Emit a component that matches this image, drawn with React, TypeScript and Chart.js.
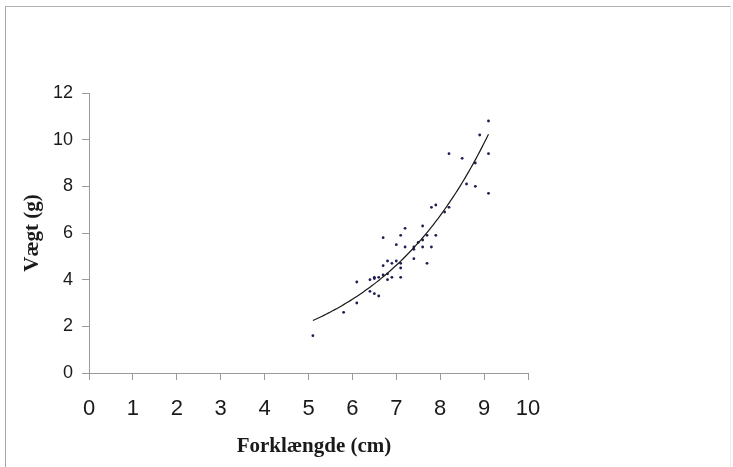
import React, { useEffect, useRef } from "react";
import { Chart, registerables } from "chart.js";

Chart.register(...registerables);

// Forklængde (cm)
const lengthCm: number[] = [
  5.1, 5.8, 6.1, 6.1, 6.4, 6.5, 6.5, 6.6, 6.4, 6.5, 6.6, 6.7, 6.7, 6.7, 6.8, 6.8, 6.8,
  6.9, 6.9, 7.0, 7.0, 7.1, 7.1, 7.1, 7.1, 7.2, 7.2, 7.4, 7.4, 7.4, 7.5, 7.6, 7.6, 7.6,
  7.7, 7.7, 7.8, 7.8, 7.9, 7.9, 8.1, 8.2, 8.2, 8.5, 8.6, 8.8, 8.8, 8.9, 9.1, 9.1, 9.1,
];
// Vægt (g)
const weightG: number[] = [
  1.6, 2.6, 3.0, 3.9, 4.0, 4.05, 4.1, 4.1, 3.5, 3.4, 3.3, 4.2, 4.6, 5.8, 4.0, 4.25, 4.8,
  4.7, 4.1, 4.8, 5.5, 4.7, 4.5, 4.1, 5.9, 6.2, 5.4, 4.9, 5.3, 5.4, 5.6, 5.7, 6.3, 5.4,
  5.9, 4.7, 5.4, 7.1, 7.2, 5.9, 6.9, 7.1, 9.4, 9.2, 8.1, 8.0, 9.0, 10.2, 10.8, 9.4, 7.7,
];

const xTickValues: number[] = [0, 1, 2, 3, 4, 5, 6, 7, 8, 9, 10];
const yTickValues: number[] = [0, 2, 4, 6, 8, 10, 12];
const xTitle = "Forklængde (cm)";
const yTitle = "Vægt (g)";

const titleFont = "bold 21px 'Liberation Serif', 'Times New Roman', serif";

// Exponential trendline (least squares on ln(y)), as a spreadsheet would fit it
function expFit(xs: number[], ys: number[]) {
  const n = xs.length;
  let sx = 0, sy = 0, sxx = 0, sxy = 0;
  for (let i = 0; i < n; i++) {
    const ly = Math.log(ys[i]);
    sx += xs[i];
    sy += ly;
    sxx += xs[i] * xs[i];
    sxy += xs[i] * ly;
  }
  const k = (n * sxy - sx * sy) / (n * sxx - sx * sx);
  const lnA = (sy - k * sx) / n;
  return { a: Math.exp(lnA), k };
}

// Draws the x-axis title slightly right of the plot centre, as in the original
const xTitlePlugin = {
  id: "xTitlePlugin",
  afterDraw(chart: any) {
    const { ctx, chartArea } = chart;
    ctx.save();
    ctx.font = titleFont;
    ctx.fillStyle = "#1a1a1a";
    ctx.textAlign = "center";
    ctx.textBaseline = "alphabetic";
    ctx.fillText(xTitle, (chartArea.left + chartArea.right) / 2 + 5.5, chartArea.bottom + 79);
    ctx.restore();
  },
};

export default function App() {
  const ref = useRef<HTMLCanvasElement | null>(null);

  useEffect(() => {
    if (!ref.current) return;
    const { a, k } = expFit(lengthCm, weightG);
    const xMin = Math.min(...lengthCm);
    const xMax = Math.max(...lengthCm);
    const trend: { x: number; y: number }[] = [];
    const steps = 80;
    for (let i = 0; i <= steps; i++) {
      const x = xMin + ((xMax - xMin) * i) / steps;
      trend.push({ x, y: a * Math.exp(k * x) });
    }
    const points = lengthCm.map((x, i) => ({ x, y: weightG[i] }));

    const axisColor = "#9a9a9a";
    const chart = new Chart(ref.current, {
      type: "scatter",
      data: {
        datasets: [
          {
            label: "trend",
            data: trend,
            showLine: true,
            borderColor: "#1a1a1a",
            borderWidth: 1.2,
            pointRadius: 0,
            tension: 0,
            fill: false,
          },
          {
            label: "data",
            data: points,
            pointRadius: 1.4,
            pointBackgroundColor: "#1d1d55",
            pointBorderWidth: 0,
            showLine: false,
          },
        ],
      },
      options: {
        responsive: false,
        animation: false,
        events: [],
        layout: { padding: { left: 0, top: 93, right: 205, bottom: 0 } },
        plugins: { legend: { display: false }, tooltip: { enabled: false } },
        scales: {
          x: {
            type: "linear",
            min: 0,
            max: 10,
            afterFit: (s: any) => {
              s.height = 94;
            },
            afterBuildTicks: (s: any) => {
              s.ticks = xTickValues.map((v) => ({ value: v }));
            },
            ticks: {
              color: "#1a1a1a",
              font: { family: "'Liberation Sans', Arial", size: 22 },
              padding: 16,
              maxRotation: 0,
              autoSkip: false,
            },
            grid: { drawOnChartArea: false, drawTicks: true, tickLength: 7, color: axisColor },
            border: { color: axisColor, width: 1 },
            title: { display: false, text: xTitle },
          },
          y: {
            type: "linear",
            min: 0,
            max: 12,
            afterFit: (s: any) => {
              s.width = 89;
            },
            afterBuildTicks: (s: any) => {
              s.ticks = yTickValues.map((v) => ({ value: v }));
            },
            ticks: {
              color: "#1a1a1a",
              font: { family: "'Liberation Sans', Arial", size: 18 },
              padding: 9,
              autoSkip: false,
            },
            grid: { drawOnChartArea: false, drawTicks: true, tickLength: 7, color: axisColor },
            border: { color: axisColor, width: 1 },
            title: {
              display: true,
              text: yTitle,
              color: "#1a1a1a",
              font: { family: "'Liberation Serif', 'Times New Roman'", size: 21, weight: "bold" },
              padding: { top: 20, bottom: 0 },
            },
          },
        },
      },
      plugins: [xTitlePlugin],
    } as any);
    return () => chart.destroy();
  }, []);

  return (
    <div
      style={{
        position: "fixed",
        left: 0,
        top: 0,
        width: 733,
        height: 467,
        background: "#fff",
        overflow: "hidden",
      }}
    >
      <div
        style={{
          position: "absolute",
          left: 5,
          top: 6,
          width: 726,
          height: 470,
          borderLeft: "1px solid #a8a8a8",
          borderTop: "1px solid #b0b0b0",
          borderRight: "1px solid #ececec",
          boxSizing: "border-box",
        }}
      />
      <canvas
        ref={ref}
        width={733}
        height={467}
        style={{ position: "absolute", left: 0, top: 0, width: 733, height: 467 }}
      />
    </div>
  );
}
